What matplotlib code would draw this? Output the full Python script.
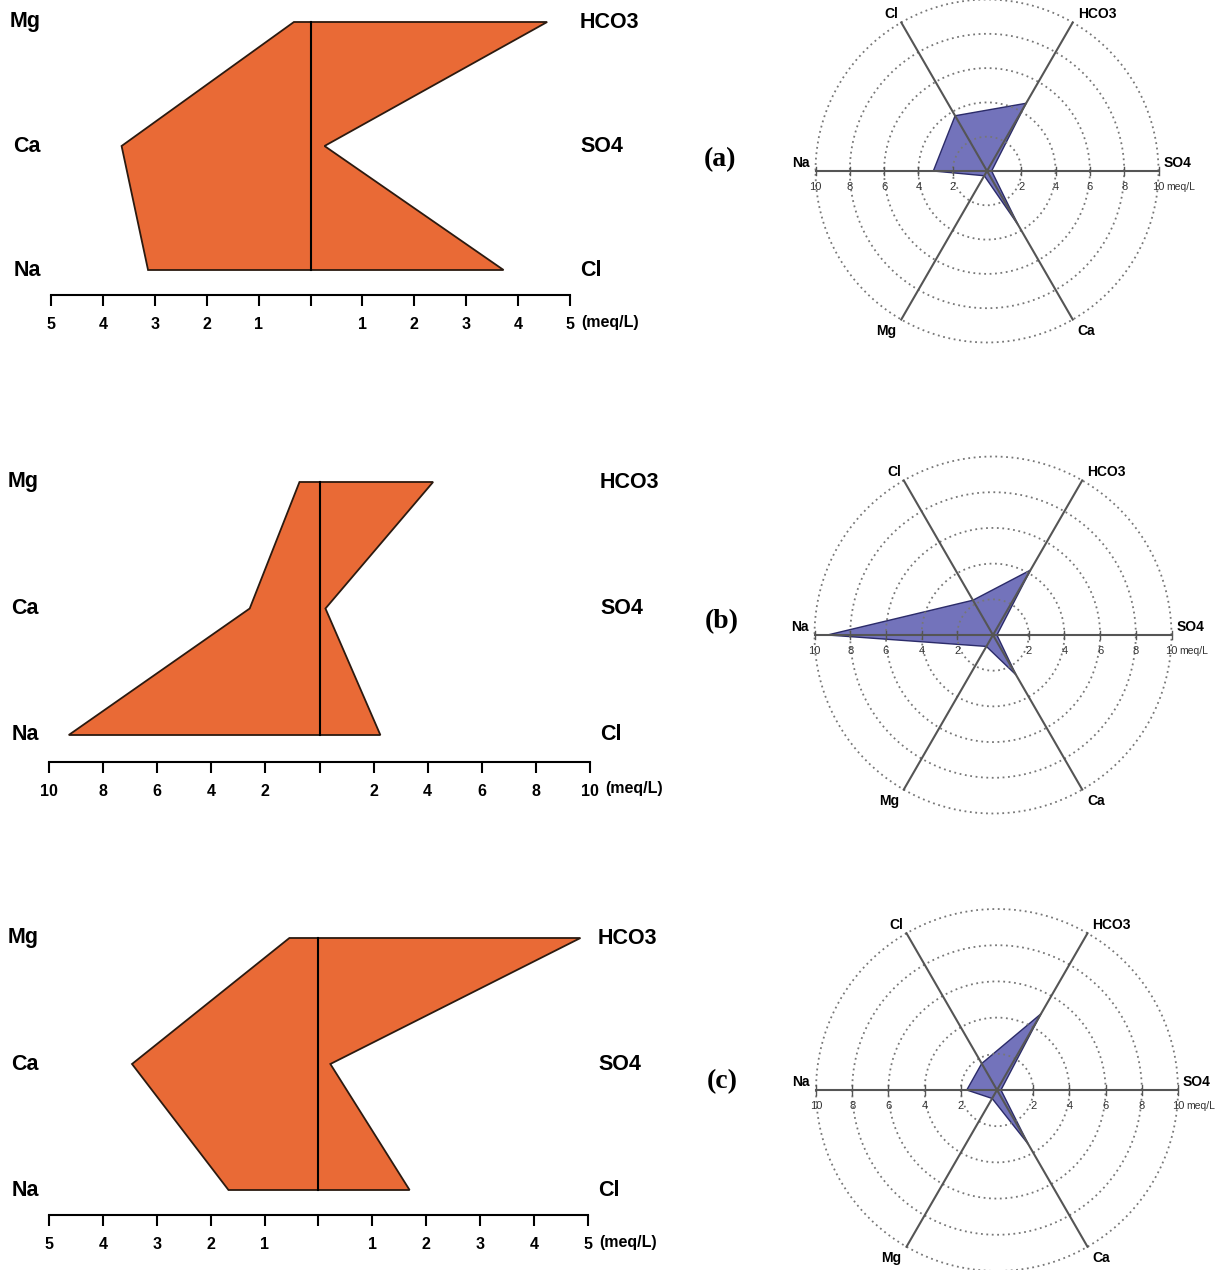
import numpy as np
import matplotlib
matplotlib.use('Agg')
import matplotlib.pyplot as plt

plt.rcParams['font.family'] = ['Liberation Sans', 'DejaVu Sans']

# ion concentrations (meq/L) per sample
samples = ['(a)', '(b)', '(c)']
na = [3.13, 9.27, 1.67]
ca = [3.64, 2.58, 3.46]
mg = [0.32, 0.74, 0.54]
cl = [3.72, 2.25, 1.69]
so4 = [0.27, 0.22, 0.22]
hco3 = [4.56, 4.20, 4.86]
stiff_max = [5, 10, 5]
stiff_step = [1, 2, 1]

radial_ions = ['Na', 'Cl', 'HCO3', 'SO4', 'Ca', 'Mg']
radial_angles = [180, 120, 60, 0, -60, -120]
rings = [2, 4, 6, 8, 10]

W, H = 1226, 1270
fig = plt.figure(figsize=(W / 100, H / 100), dpi=100)

ORANGE = '#e96a36'
BLUE = '#6b6bb8'

# pixel layouts: stiff (x_left, x_right, y_top_row, y_bottom_row, y_axis)
stiff_px = [(51, 570, 22, 270, 295), (49, 590, 482, 735, 762), (49, 588, 938, 1190, 1215)]
unit_off = [11, 15, 11]
# radial (cx, cy, r)
radial_px = [(987, 171, 171.5), (993, 635, 178.5), (997, 1090, 181)]
tag_px = [(720, 160), (722, 622), (722, 1082)]


def px_axes(x0, y0, x1, y1):
    return fig.add_axes([x0 / W, 1 - y1 / H, (x1 - x0) / W, (y1 - y0) / H])


def stiff(i):
    x0, x1, yt, yb, ya = stiff_px[i]
    m = stiff_max[i]
    ax = px_axes(x0, yt, x1, ya)
    ax.set_xlim(-m, m)
    ybot = -(ya - yb) / (yb - yt) * 2
    ax.set_ylim(ybot, 2)
    xs = [-na[i], -ca[i], -mg[i], hco3[i], so4[i], cl[i]]
    ys = [0, 1, 2, 2, 1, 0]
    ax.fill(xs, ys, facecolor=ORANGE, edgecolor='#2b1a10', linewidth=1.3, clip_on=False, zorder=2)
    ax.plot([0, 0], [0, 2], color='black', lw=1.5, zorder=3, clip_on=False)
    for s in ['top', 'left', 'right']:
        ax.spines[s].set_visible(False)
    ax.spines['bottom'].set_linewidth(1.5)
    ax.set_yticks([])
    ticks = np.arange(-m, m + 0.01, stiff_step[i])
    ax.set_xticks(ticks)
    ax.set_xticklabels(['' if t == 0 else '%d' % abs(t) for t in ticks],
                       fontsize=11.5, fontweight='bold')
    ax.tick_params(axis='x', length=8, width=1.5, pad=8)
    ax.patch.set_alpha(0)
    ax.annotate('(meq/L)', xy=(m, ybot), xytext=(unit_off[i], -27), textcoords='offset pixels',
                ha='left', va='center', fontsize=11.5, fontweight='bold')
    for lab, row in zip(['Na', 'Ca', 'Mg'], [0, 1, 2]):
        ax.annotate(lab, xy=(-m, row), xytext=(-10, 0), textcoords='offset pixels',
                    ha='right', va='center', fontsize=15.5, fontweight='bold')
    for lab, row in zip(['Cl', 'SO4', 'HCO3'], [0, 1, 2]):
        ax.annotate(lab, xy=(m, row), xytext=(10, 0), textcoords='offset pixels',
                    ha='left', va='center', fontsize=15.5, fontweight='bold')


def radial(i):
    cx, cy, r = radial_px[i]
    k = 1.35
    ax = px_axes(cx - k * r, cy - k * r, cx + k * r, cy + k * r)
    lim = 10 * k
    ax.set_xlim(-lim, lim)
    ax.set_ylim(-lim, lim)
    ax.axis('off')
    t = np.linspace(0, 2 * np.pi, 300)
    for rr in rings:
        ax.plot(rr * np.cos(t), rr * np.sin(t), color='#777777', lw=1.3,
                linestyle=(0, (1, 2)), zorder=3)
    vals = [na[i], cl[i], hco3[i], so4[i], ca[i], mg[i]]
    th = np.radians(radial_angles)
    px = np.array(vals) * np.cos(th)
    py = np.array(vals) * np.sin(th)
    ax.fill(px, py, facecolor=BLUE, edgecolor='#242463', lw=1.0, alpha=0.95, zorder=2)
    # spokes
    ax.plot([-10, 10], [0, 0], color='#555555', lw=1.5, zorder=4)
    for a in [60, 120, -60, -120]:
        ax.plot([0, 10 * np.cos(np.radians(a))], [0, 10 * np.sin(np.radians(a))],
                color='#555555', lw=1.5, zorder=4)
    for v in [-10, -8, -6, -4, -2, 2, 4, 6, 8, 10]:
        ax.plot([v, v], [-0.25, 0.25], color='#555555', lw=1.0, zorder=4)
        ax.annotate('%d' % abs(v), xy=(v, 0), xytext=(0, -16), textcoords='offset pixels',
                    ha='center', va='center', fontsize=8, color='#333333')
    ax.annotate('meq/L', xy=(10, 0), xytext=(8, -16), textcoords='offset pixels',
                ha='left', va='center', fontsize=7.5, color='#333333')
    # ion labels at spoke ends
    offs = {'Na': (-6, 8, 'right'), 'SO4': (5, 8, 'left'), 'Cl': (-3, 8, 'right'),
            'HCO3': (5, 8, 'left'), 'Mg': (-5, -11, 'right'), 'Ca': (5, -11, 'left')}
    for ion, a in zip(radial_ions, radial_angles):
        dx, dy, ha = offs[ion]
        ax.annotate(ion, xy=(10 * np.cos(np.radians(a)), 10 * np.sin(np.radians(a))),
                    xytext=(dx, dy), textcoords='offset pixels', ha=ha, va='center',
                    fontsize=10, fontweight='bold')


for i in range(3):
    stiff(i)
    radial(i)
    tx, ty = tag_px[i]
    fig.text(tx / W, 1 - ty / H, samples[i], ha='center', va='center', fontsize=20,
             fontweight='bold', family=['Liberation Serif', 'DejaVu Serif'])

fig.savefig('out.png', dpi=100)
